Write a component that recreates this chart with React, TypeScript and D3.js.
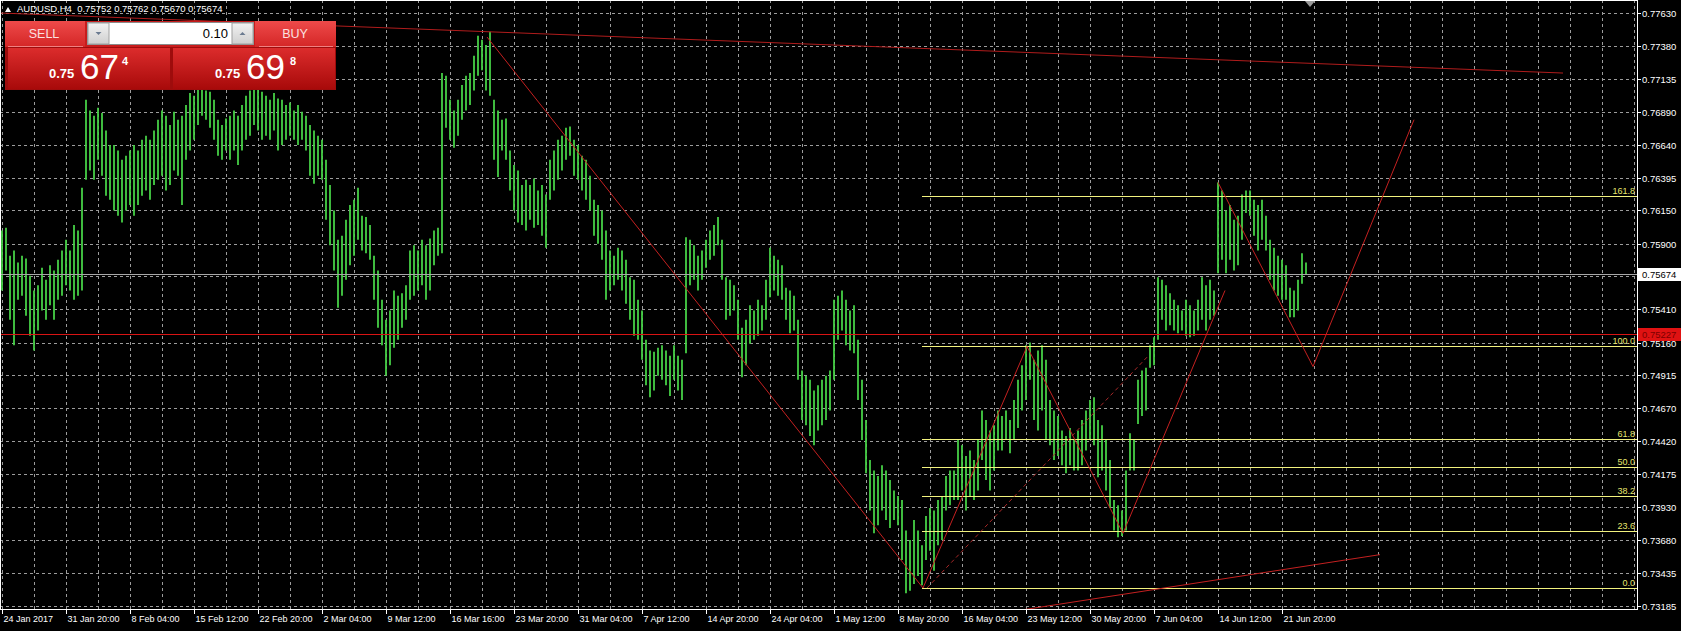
import React from "react";
import * as d3 from "d3";

const W = 1681;
const H = 631;
const PLOT_R = 1637;
const PLOT_B = 609;

const symbolTitle = "AUDUSD,H4  0.75752 0.75762 0.75670 0.75674";

const priceLabels = ["0.77630","0.77380","0.77135","0.76890","0.76640","0.76395","0.76150","0.75900","0.75655","0.75410","0.75160","0.74915","0.74670","0.74420","0.74175","0.73930","0.73680","0.73435","0.73185"];

const timeLabels = ["24 Jan 2017","31 Jan 20:00","8 Feb 04:00","15 Feb 12:00","22 Feb 20:00","2 Mar 04:00","9 Mar 12:00","16 Mar 16:00","23 Mar 20:00","31 Mar 04:00","7 Apr 12:00","14 Apr 20:00","24 Apr 04:00","1 May 12:00","8 May 20:00","16 May 04:00","23 May 12:00","30 May 20:00","7 Jun 04:00","14 Jun 12:00","21 Jun 20:00"];

const barHigh = [
0.7600,0.7602,0.7581,0.7585,0.7576,0.7581,0.7579,0.7566,0.7555,0.7559,
0.7572,0.7563,0.7574,0.7570,0.7578,0.7585,0.7593,0.7585,0.7604,0.7600,
0.7632,0.7698,0.7690,0.7686,0.7692,0.7688,0.7675,0.7664,0.7664,0.7660,
0.7653,0.7656,0.7660,0.7664,0.7660,0.7668,0.7671,0.7668,0.7675,0.7683,
0.7690,0.7686,0.7679,0.7689,0.7683,0.7686,0.7694,0.7703,0.7701,0.7707,
0.7708,0.7705,0.7704,0.7698,0.7683,0.7679,0.7684,0.7686,0.7690,0.7686,
0.7694,0.7701,0.7705,0.7708,0.7707,0.7704,0.7701,0.7698,0.7703,0.7699,
0.7698,0.7694,0.7696,0.7690,0.7694,0.7689,0.7686,0.7679,0.7675,0.7671,
0.7668,0.7653,0.7634,0.7615,0.7593,0.7596,0.7608,0.7619,0.7623,0.7632,
0.7611,0.7610,0.7604,0.7581,0.7570,0.7548,0.7533,0.7540,0.7555,0.7551,
0.7553,0.7559,0.7585,0.7589,0.7585,0.7593,0.7589,0.7594,0.7600,0.7602,
0.7718,0.7716,0.7698,0.7690,0.7698,0.7709,0.7716,0.7718,0.7731,0.7746,
0.7743,0.7739,0.7749,0.7698,0.7690,0.7683,0.7684,0.7660,0.7649,0.7645,
0.7634,0.7638,0.7634,0.7639,0.7630,0.7634,0.7627,0.7653,0.7660,0.7668,
0.7671,0.7677,0.7678,0.7668,0.7664,0.7656,0.7653,0.7641,0.7623,0.7619,
0.7615,0.7600,0.7585,0.7581,0.7587,0.7585,0.7578,0.7565,0.7563,0.7548,
0.7540,0.7518,0.7510,0.7509,0.7512,0.7514,0.7510,0.7506,0.7514,0.7506,
0.7503,0.7595,0.7593,0.7589,0.7581,0.7585,0.7593,0.7600,0.7604,0.7610,
0.7593,0.7565,0.7563,0.7559,0.7548,0.7527,0.7533,0.7544,0.7540,0.7548,
0.7544,0.7563,0.7587,0.7581,0.7578,0.7574,0.7557,0.7555,0.7551,0.7533,
0.7495,0.7491,0.7488,0.7480,0.7484,0.7488,0.7491,0.7495,0.7548,0.7551,
0.7555,0.7548,0.7540,0.7544,0.7518,0.7488,0.7458,0.7428,0.7420,0.7416,
0.7424,0.7420,0.7413,0.7405,0.7401,0.7398,0.7375,0.7368,0.7383,0.7375,
0.7364,0.7386,0.7392,0.7390,0.7398,0.7401,0.7416,0.7420,0.7420,0.7443,
0.7439,0.7431,0.7435,0.7428,0.7443,0.7465,0.7458,0.7450,0.7454,0.7465,
0.7461,0.7465,0.7458,0.7473,0.7488,0.7499,0.7514,0.7516,0.7503,0.7510,
0.7514,0.7503,0.7473,0.7465,0.7461,0.7450,0.7446,0.7452,0.7443,0.7450,
0.7458,0.7465,0.7473,0.7475,0.7458,0.7454,0.7443,0.7428,0.7398,0.7394,
0.7390,0.7420,0.7448,0.7443,0.7488,0.7495,0.7497,0.7514,0.7520,0.7565,
0.7563,0.7559,0.7553,0.7548,0.7544,0.7540,0.7548,0.7544,0.7540,0.7548,
0.7565,0.7559,0.7563,0.7555,0.7636,0.7630,0.7615,0.7619,0.7608,0.7611,
0.7627,0.7630,0.7630,0.7623,0.7619,0.7623,0.7611,0.7593,0.7587,0.7581,
0.7578,0.7574,0.7557,0.7555,0.7563,0.7583,0.7576
];

const barLow = [
0.7555,0.7570,0.7533,0.7514,0.7548,0.7551,0.7536,0.7521,0.7510,0.7525,
0.7540,0.7533,0.7544,0.7533,0.7548,0.7551,0.7559,0.7555,0.7548,0.7551,
0.7555,0.7638,0.7645,0.7638,0.7653,0.7641,0.7626,0.7623,0.7615,0.7611,
0.7606,0.7615,0.7619,0.7611,0.7619,0.7626,0.7630,0.7623,0.7634,0.7638,
0.7641,0.7630,0.7634,0.7645,0.7641,0.7619,0.7653,0.7660,0.7668,0.7679,
0.7686,0.7683,0.7677,0.7668,0.7656,0.7653,0.7660,0.7653,0.7660,0.7649,
0.7660,0.7668,0.7671,0.7679,0.7675,0.7668,0.7671,0.7668,0.7675,0.7660,
0.7664,0.7668,0.7671,0.7668,0.7664,0.7668,0.7660,0.7641,0.7635,0.7641,
0.7638,0.7608,0.7589,0.7570,0.7542,0.7551,0.7563,0.7574,0.7581,0.7593,
0.7585,0.7583,0.7578,0.7548,0.7527,0.7514,0.7491,0.7499,0.7512,0.7518,
0.7527,0.7533,0.7548,0.7551,0.7555,0.7559,0.7548,0.7555,0.7574,0.7581,
0.7583,0.7677,0.7668,0.7662,0.7671,0.7683,0.7690,0.7694,0.7705,0.7716,
0.7720,0.7705,0.7701,0.7653,0.7640,0.7660,0.7653,0.7630,0.7615,0.7606,
0.7604,0.7600,0.7608,0.7602,0.7604,0.7596,0.7587,0.7623,0.7630,0.7638,
0.7645,0.7653,0.7656,0.7641,0.7638,0.7630,0.7623,0.7615,0.7596,0.7590,
0.7578,0.7548,0.7555,0.7559,0.7563,0.7555,0.7545,0.7533,0.7521,0.7518,
0.7503,0.7484,0.7475,0.7480,0.7491,0.7488,0.7484,0.7476,0.7488,0.7480,
0.7473,0.7508,0.7559,0.7563,0.7555,0.7563,0.7572,0.7578,0.7581,0.7589,
0.7563,0.7533,0.7536,0.7540,0.7518,0.7490,0.7499,0.7515,0.7518,0.7521,
0.7525,0.7533,0.7550,0.7555,0.7551,0.7548,0.7533,0.7523,0.7525,0.7488,
0.7458,0.7454,0.7446,0.7439,0.7450,0.7454,0.7458,0.7465,0.7488,0.7518,
0.7525,0.7514,0.7510,0.7508,0.7473,0.7443,0.7418,0.7390,0.7373,0.7379,
0.7390,0.7383,0.7377,0.7383,0.7379,0.7353,0.7328,0.7330,0.7335,0.7341,
0.7334,0.7353,0.7360,0.7345,0.7364,0.7368,0.7390,0.7394,0.7398,0.7398,
0.7405,0.7390,0.7401,0.7398,0.7405,0.7428,0.7413,0.7405,0.7420,0.7435,
0.7435,0.7443,0.7433,0.7443,0.7452,0.7465,0.7473,0.7488,0.7458,0.7450,
0.7465,0.7443,0.7439,0.7428,0.7431,0.7424,0.7418,0.7424,0.7420,0.7420,
0.7424,0.7435,0.7443,0.7439,0.7415,0.7420,0.7405,0.7392,0.7375,0.7370,
0.7371,0.7375,0.7420,0.7420,0.7455,0.7461,0.7465,0.7497,0.7499,0.7518,
0.7533,0.7525,0.7529,0.7525,0.7523,0.7525,0.7521,0.7520,0.7521,0.7525,
0.7533,0.7525,0.7533,0.7536,0.7568,0.7578,0.7568,0.7578,0.7570,0.7574,
0.7593,0.7613,0.7611,0.7596,0.7585,0.7593,0.7585,0.7563,0.7555,0.7551,
0.7548,0.7548,0.7535,0.7535,0.7540,0.7560,0.7567
];

const bidPrice = 0.75674;
const hLinePrice = 0.75227;

const fibLow = 0.73318;
const fibHigh = 0.75133;
const fibStartIndex = 230;
const fibLevels = ["0.0", "23.6", "38.2", "50.0", "61.8", "100.0", "161.8"];

const trendTop = [[-0.5, 0.7763], [390.25, 0.7718]];
const trendDown = [[121.25, 0.7745], [230.25, 0.7332]];
const zigzagMain = [[230.25, 0.7332], [256.25, 0.7513], [280.25, 0.7373], [305.75, 0.7555]];
const dashedLeg = [[231.25, 0.7332], [286.25, 0.7505]];
const zigzagRight = [[304, 0.7636], [327.75, 0.7498], [353, 0.7683]];
const trendBottom = [[249.5, 0.7313], [344.5, 0.7357]];

const lotSize = "0.10";
const sellPrice = { big: "0.75", mid: "67", pip: "4" };
const buyPrice = { big: "0.75", mid: "69", pip: "8" };

const FONT = "'Liberation Sans', Arial, sans-serif";

export default function App() {
  const x = d3.scaleLinear().domain([0, 400]).range([2, 1602]);
  const y = d3.scaleLinear().domain([0.73185, 0.7763]).range([606, 13]);
  const line = d3.line<number[]>().x((d) => x(d[0])).y((d) => y(d[1]));

  const vGrid = d3.range(0, 420, 8).map((i) => x(i)).filter((v) => v < PLOT_R);
  const bars = barHigh.map((h, i) => ({ i, h, l: barLow[i] }));
  const fib = fibLevels.map((lbl) => ({ lbl, p: fibLow + ((fibHigh - fibLow) * parseFloat(lbl)) / 100 }));

  const red = "#c42020";

  return (
    <svg width={W} height={H} style={{ position: "absolute", left: 0, top: 0, display: "block", background: "#000" }}>
      <defs>
        <clipPath id="plot">
          <rect x={0} y={0} width={PLOT_R} height={PLOT_B} />
        </clipPath>
        <linearGradient id="hdr" x1="0" y1="0" x2="0" y2="1">
          <stop offset="0" stopColor="#ee4a4a" />
          <stop offset="1" stopColor="#d42626" />
        </linearGradient>
        <linearGradient id="big" x1="0" y1="0" x2="0" y2="1">
          <stop offset="0" stopColor="#dc2c2c" />
          <stop offset="1" stopColor="#a80a0a" />
        </linearGradient>
        <linearGradient id="btn" x1="0" y1="0" x2="0" y2="1">
          <stop offset="0" stopColor="#f2f2f2" />
          <stop offset="1" stopColor="#cfcfcf" />
        </linearGradient>
      </defs>
      <rect x={0} y={0} width={W} height={H} fill="#000" />

      {/* grid */}
      <g stroke="#9c9c9c" strokeWidth={1} strokeDasharray="3,3" shapeRendering="crispEdges">
        {vGrid.map((v, k) => (
          <line key={"v" + k} x1={Math.round(v) + 0.5} x2={Math.round(v) + 0.5} y1={0} y2={PLOT_B} />
        ))}
        {priceLabels.map((p, k) => (
          <line key={"h" + k} x1={0} x2={PLOT_R} y1={Math.round(y(+p)) + 0.5} y2={Math.round(y(+p)) + 0.5} />
        ))}
      </g>

      {/* price bars */}
      <g clipPath="url(#plot)" stroke="#46d046" strokeWidth={1.8}>
        {bars.map((b) => (
          <line key={b.i} x1={x(b.i)} x2={x(b.i)} y1={y(b.h)} y2={y(b.l)} />
        ))}
      </g>

      {/* objects */}
      <g clipPath="url(#plot)" fill="none">
        <line x1={0} x2={PLOT_R} y1={Math.round(y(hLinePrice)) + 0.5} y2={Math.round(y(hLinePrice)) + 0.5} stroke="#d81414" strokeWidth={1} />
        <line x1={0} x2={PLOT_R} y1={Math.round(y(bidPrice)) + 0.5} y2={Math.round(y(bidPrice)) + 0.5} stroke="#a8a8a8" strokeWidth={1} />
        {fib.map((f) => (
          <g key={f.lbl}>
            <line x1={x(fibStartIndex)} x2={PLOT_R} y1={Math.round(y(f.p)) + 0.5} y2={Math.round(y(f.p)) + 0.5} stroke="#f2f27e" strokeWidth={1} />
            <text x={PLOT_R - 2} y={Math.round(y(f.p)) - 2} textAnchor="end" fontFamily={FONT} fontSize={9} fill="#e6e66e">
              {f.lbl}
            </text>
          </g>
        ))}
        <path d={line(trendTop as any) || ""} stroke="#b01c1c" strokeWidth={1} />
        <path d={line(trendDown as any) || ""} stroke={red} strokeWidth={1} />
        <path d={line(zigzagMain as any) || ""} stroke={red} strokeWidth={1} />
        <path d={line(dashedLeg as any) || ""} stroke="#a82828" strokeWidth={1} strokeDasharray="4,3" />
        <path d={line(zigzagRight as any) || ""} stroke={red} strokeWidth={1} />
        <path d={line(trendBottom as any) || ""} stroke={red} strokeWidth={1} />
      </g>

      {/* frame */}
      <rect x={0.5} y={0.5} width={PLOT_R} height={PLOT_B} fill="none" stroke="#ffffff" strokeWidth={1} shapeRendering="crispEdges" />

      {/* right axis */}
      <g fontFamily={FONT} fontSize={9.5} fill="#ffffff">
        {priceLabels.map((p, k) => {
          const yy = Math.round(y(+p)) + 0.5;
          return (
            <g key={k}>
              <line x1={PLOT_R} x2={PLOT_R + 4} y1={yy} y2={yy} stroke="#ffffff" />
              <text x={PLOT_R + 5} y={yy + 3.5}>{p}</text>
            </g>
          );
        })}
        <rect x={PLOT_R + 1} y={Math.round(y(bidPrice)) - 6} width={W - PLOT_R - 1} height={13} fill="#ffffff" />
        <text x={PLOT_R + 5} y={Math.round(y(bidPrice)) + 4} fill="#000000">{bidPrice.toFixed(5)}</text>
        <rect x={PLOT_R + 1} y={Math.round(y(hLinePrice)) - 6} width={W - PLOT_R - 1} height={13} fill="#e01212" />
        <text x={PLOT_R + 5} y={Math.round(y(hLinePrice)) + 4} fill="#7c0000">{hLinePrice.toFixed(5)}</text>
      </g>

      {/* bottom axis */}
      <g fontFamily={FONT} fontSize={9} fill="#ffffff">
        {timeLabels.map((t, k) => {
          const xx = Math.round(x(k * 16)) + 0.5;
          return (
            <g key={t}>
              <line x1={xx} x2={xx} y1={PLOT_B} y2={PLOT_B + 5} stroke="#ffffff" />
              <text x={xx + 1} y={622}>{t}</text>
            </g>
          );
        })}
      </g>

      {/* chart shift marker */}
      <polygon points="1305,1 1315,1 1310,7" fill="#9a9a9a" />

      {/* title */}
      <polygon points="5,12 11,12 8,7" fill="#ffffff" />
      <text x={17} y={12} fontFamily={FONT} fontSize={9.5} fill="#ffffff" style={{ whiteSpace: "pre" }}>
        {symbolTitle}
      </text>

      {/* one click trading panel */}
      <g fontFamily={FONT}>
        <rect x={5} y={21} width={331} height={69} fill="#9e0c0c" />
        <rect x={5} y={21} width={80} height={26} fill="url(#hdr)" />
        <rect x={255} y={21} width={81} height={26} fill="url(#hdr)" />
        <rect x={85} y={21} width={170} height={26} fill="#c81c1c" />
        <line x1={8} x2={83} y1={46.5} y2={46.5} stroke="#f08080" />
        <line x1={259} x2={333} y1={46.5} y2={46.5} stroke="#f08080" />
        <text x={44} y={38} textAnchor="middle" fontSize={12.5} fill="#fbe0e0">SELL</text>
        <text x={295} y={38} textAnchor="middle" fontSize={12.5} fill="#fbe0e0">BUY</text>
        <rect x={87.5} y={22.5} width={166} height={22} fill="#ffffff" stroke="#8a8a8a" />
        <rect x={88} y={23} width={21} height={21} fill="url(#btn)" stroke="#a0a0a0" />
        <rect x={232} y={23} width={21} height={21} fill="url(#btn)" stroke="#a0a0a0" />
        <polygon points="95.5,32 101.5,32 98.5,35" fill="#6a7a90" />
        <polygon points="239.5,35 245.5,35 242.5,32" fill="#6a7a90" />
        <text x={228} y={38} textAnchor="end" fontSize={13} fill="#000000">{lotSize}</text>

        <rect x={8} y={48} width={162} height={41} fill="url(#big)" />
        <rect x={173} y={48} width={162} height={41} fill="url(#big)" />
        <text x={49} y={78} fontSize={13} fontWeight="bold" fill="#ffffff">{sellPrice.big}</text>
        <text x={80} y={79} fontSize={35} fill="#ffffff">{sellPrice.mid}</text>
        <text x={122} y={65} fontSize={11} fontWeight="bold" fill="#ffffff">{sellPrice.pip}</text>
        <text x={215} y={78} fontSize={13} fontWeight="bold" fill="#ffffff">{buyPrice.big}</text>
        <text x={246} y={79} fontSize={35} fill="#ffffff">{buyPrice.mid}</text>
        <text x={290} y={65} fontSize={11} fontWeight="bold" fill="#ffffff">{buyPrice.pip}</text>
      </g>
    </svg>
  );
}
